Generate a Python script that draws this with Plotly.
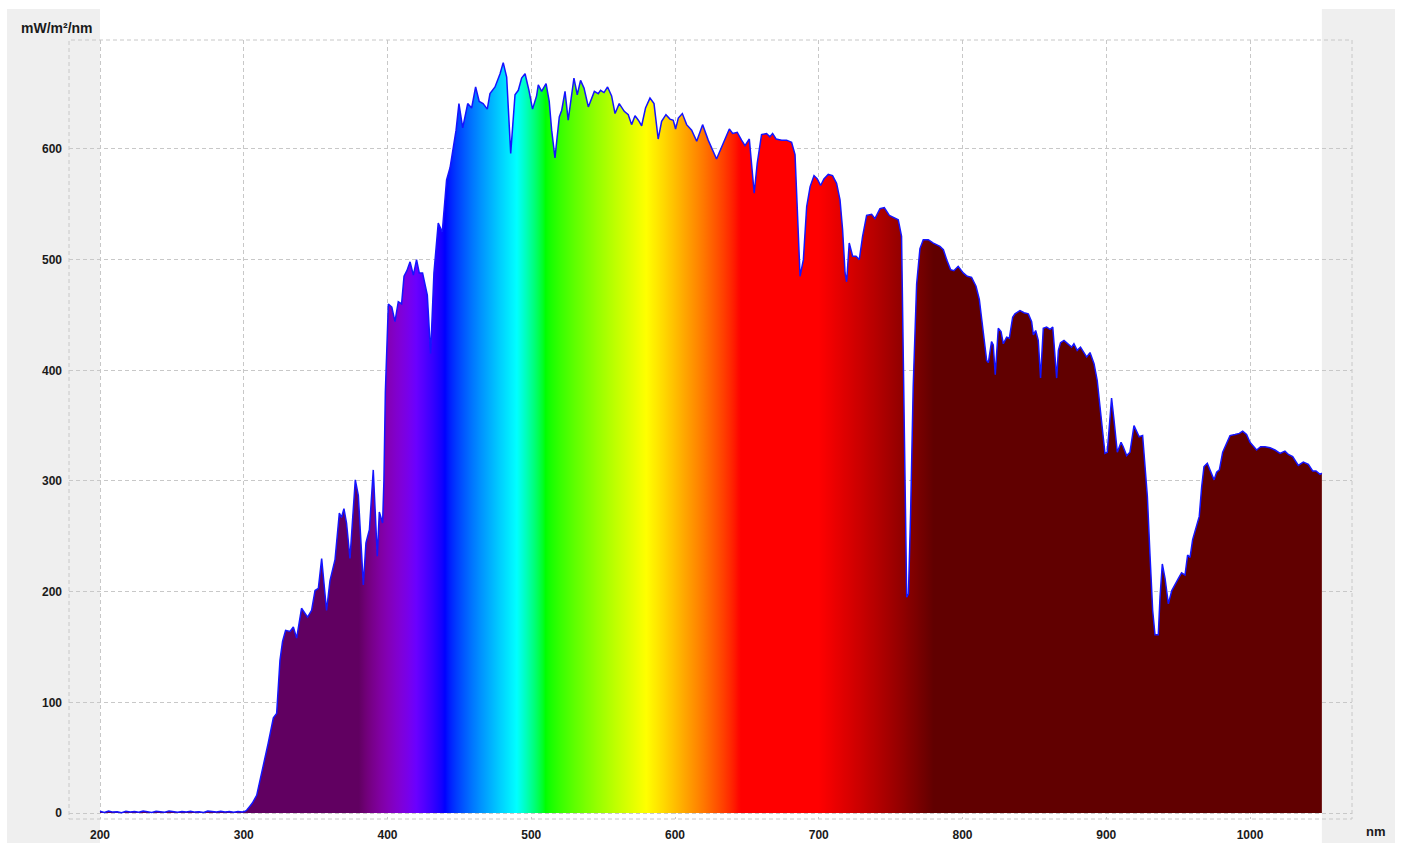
import plotly.graph_objects as go

# ---------------- data ----------------
wavelength_nm = [
    200, 203, 206, 209, 212, 215, 218, 221, 224, 227, 230, 233, 236, 239, 242, 245, 248, 251, 254, 257,
    260, 263, 266, 269, 272, 275, 278, 281, 284, 287, 290, 293, 296, 299, 301,
    302, 304, 306, 309, 311, 313.6, 317, 320.6, 322.9, 325.2, 327, 329.1, 332.2, 334.5, 336.8,
    340.2, 341.4, 344.4, 347.2, 349.6, 351.9, 354.2, 357.6, 360, 363.5, 366.5, 368, 369.7, 371.5,
    373.9, 375.7, 377.6, 379.7, 383.2, 385, 387.4, 390.1, 392.9, 394.3, 396.6, 397.5, 398.5,
    400.6, 403, 405.2, 407.5, 409.8, 411.5, 413.5, 415.7, 418, 420.2, 422.1, 424.4, 427.7, 430,
    432.3, 435.3, 438.1, 441.1, 443.5, 445.3, 447.7, 449.7, 452.3, 455.8, 458.5, 461.3, 463.8,
    466.5, 469.4, 471.3, 474.8, 478.3, 480.5, 482.9, 485.7, 488.7, 491, 493.3, 495.7, 498.4,
    500.9, 503.7, 504.9, 507.2, 510.3, 512.5, 514.2, 516.5, 519.5, 521.2, 523.5, 525.7, 527.7,
    529.7, 532, 534.3, 536.7, 539.7, 543.9, 546.6, 548.2, 550.6, 553.1, 555.9, 558.3, 561.2,
    564.7, 567.5, 569.8, 572.2, 574.5, 576.8, 579.5, 582.6, 585.4, 588.3, 590.7, 593.7, 596.5,
    598.8, 600.4, 602.3, 605.1, 608.1, 611.6, 615.1, 619.2, 623.1, 628.9, 633.6, 637.8, 640.1,
    643.3, 646.3, 648.7, 651.7, 653.3, 655.1, 657.2, 660.2, 663.7, 666, 667.9, 670.3, 674.2,
    677.6, 681.1, 683.5, 685, 687, 689.3, 691.6, 694, 696.7, 699, 701.3, 703.6, 706.6, 709.6,
    712.4, 714.8, 716.6, 718.3, 719.4, 721.2, 723.6, 725.9, 728.2, 730.5, 733.3, 736.8, 739.1,
    742.6, 745.6, 749.1, 751.8, 755.3, 757.6, 758.8, 760, 761.2, 762.4, 763.9, 765.7, 768.1,
    770.4, 772.7, 776.2, 779.7, 784.3, 786.7, 789, 791.7, 794, 797, 800.5, 803.3, 806.3, 809.4,
    811.7, 814, 816.8, 818, 820.2, 821.4, 822.8, 824.9, 826.8, 828.4, 830.7, 832.6, 834.9,
    836.5, 840, 842.8, 845.8, 848.1, 849.3, 850.9, 852.7, 854.3, 856.2, 858.5, 860.9, 862.8,
    864.3, 865.5, 866.7, 868.2, 870.6, 873.7, 875.9, 877.5, 879.8, 882.1, 884.5, 886.4, 888.7,
    891.5, 893.7, 896.8, 899.1, 900.7, 902.1, 903.7, 905.4, 907.7, 910.3, 911.8, 914.2, 916.5,
    919.3, 921.2, 922.9, 925.3, 926.9, 928.6, 930.4, 932.3, 933.9, 936.2, 937.4, 939, 940.9,
    943.2, 945.6, 947.8, 950.2, 952.4, 954.8, 956.6, 958.3, 960.1, 962.4, 964.7, 966.4, 968,
    970.3, 972.6, 975, 976.8, 978.7, 981, 983.8, 986.1, 989.6, 992.6, 994.9, 997.6, 1000,
    1002.3, 1004.6, 1007.4, 1010.4, 1013.9, 1017.4, 1020.9, 1024.3, 1026.7, 1029.7, 1033.6,
    1037.1, 1040.6, 1043.6, 1045.9, 1048.7, 1050,
]

irradiance = [
    1.5, 0.5, 1.8, 0.8, 1.2, 0.3, 1.6, 0.9, 1.4, 0.6, 1.7, 1.0, 0.4, 1.5, 1.1, 0.7, 1.9, 1.2, 0.6, 1.3,
    0.9, 1.6, 0.8, 1.2, 0.5, 1.7, 1.1, 0.8, 1.5, 0.9, 1.3, 0.6, 1.4, 1.0, 1.5,
    2.5, 5.7, 9, 16, 27, 42, 63, 86, 90, 138, 155, 165, 164, 168, 158,
    185, 183, 177, 183, 201, 203, 230, 183, 210, 229, 271, 267, 275, 262,
    230, 265, 301, 287, 206, 244, 256, 310, 232, 272, 262, 300, 380,
    460, 457, 444, 462, 460, 485, 490, 498, 486, 500, 488, 488, 468, 415,
    488, 533, 525, 572, 583, 599, 617, 641, 619, 641, 637, 656, 643,
    641, 636, 650, 656, 668, 678, 665, 596, 649, 653, 664, 668, 653,
    636, 648, 658, 652, 659, 643, 617, 592, 629, 635, 652, 626, 646,
    664, 649, 662, 655, 638, 652, 650, 653, 651, 656, 648, 632, 641,
    634, 631, 622, 630, 626, 621, 637, 646, 641, 609, 625, 631, 627,
    626, 618, 628, 632, 622, 617, 607, 622, 608, 591, 606, 618, 614,
    615, 608, 603, 609, 587, 560, 587, 613, 614, 611, 614, 609, 608,
    608, 606, 595, 548, 485, 500, 548, 566, 576, 573, 567, 573, 577, 576,
    569, 554, 527, 488, 480, 515, 503, 503, 500, 521, 540, 541, 537,
    546, 547, 540, 538, 536, 521, 397, 271, 195, 198, 271, 385, 478,
    510, 518, 518, 515, 512, 509, 500, 491, 490, 494, 488, 485, 484, 476,
    464, 439, 409, 407, 426, 423, 396, 438, 435, 424, 430, 429, 448,
    451, 454, 452, 451, 444, 432, 436, 427, 393, 438, 439, 437, 439,
    415, 393, 418, 425, 427, 423, 421, 424, 418, 421, 416, 412, 416,
    406, 391, 352, 325, 326, 352, 375, 355, 326, 335, 331, 323, 326,
    350, 344, 340, 341, 316, 286, 234, 183, 161, 161, 195, 225, 212,
    189, 201, 207, 212, 217, 215, 233, 231, 247, 257, 268, 295, 313,
    316, 309, 301, 308, 310, 326, 335, 341, 342, 343, 345, 342, 335,
    331, 328, 331, 331, 330, 328, 325, 327, 324, 322, 314,
    317, 315, 309, 309, 306, 307,
]

x_ticks = [200, 300, 400, 500, 600, 700, 800, 900, 1000]
y_ticks = [0, 100, 200, 300, 400, 500, 600]
y_unit_label = "mW/m²/nm"
x_unit_label = "nm"

# ---------------- style helpers ----------------
def wavelength_color(w):
    """Classic visible-spectrum colour (clamped at 380 / 780 nm)."""
    w = min(max(w, 380.0), 780.0)
    if w < 440:
        r, g, b = -(w - 440) / 60.0, 0.0, 1.0
    elif w < 490:
        r, g, b = 0.0, (w - 440) / 50.0, 1.0
    elif w < 510:
        r, g, b = 0.0, 1.0, -(w - 510) / 20.0
    elif w < 580:
        r, g, b = (w - 510) / 70.0, 1.0, 0.0
    elif w < 645:
        r, g, b = 1.0, -(w - 645) / 65.0, 0.0
    else:
        r, g, b = 1.0, 0.0, 0.0
    if w < 420:
        f = 0.3 + 0.7 * (w - 380) / 40.0
    elif w > 700:
        f = 0.3 + 0.7 * (780 - w) / 80.0
    else:
        f = 1.0
    conv = lambda c: int(round(255 * ((c * f) ** 0.8))) if c > 0 else 0
    return "rgb(%d,%d,%d)" % (conv(r), conv(g), conv(b))

g_start, g_stop = 200.0, 1050.0
stops = list(range(200, 1051, 2))
colorscale = [[(s - g_start) / (g_stop - g_start), wavelength_color(s)] for s in stops]

# pixel layout of the reference
W, H = 1404, 843
L, R, T, B = 69, 1352, 40, 819
pw, ph = R - L, B - T
px2x = lambda px: (px - L) / pw
py2y = lambda py: (B - py) / ph

grid_col = "#c8c8c8"
font_fam = "Liberation Sans, Arial, sans-serif"

fig = go.Figure()
fig.add_trace(go.Scatter(
    x=wavelength_nm, y=irradiance, mode="lines",
    line=dict(color="#1414ff", width=1.5),
    fill="tozeroy",
    fillgradient=dict(type="horizontal", colorscale=colorscale, start=g_start, stop=g_stop),
    hoverinfo="x+y", showlegend=False,
))

shapes = [
    # outer grey panel
    dict(type="rect", xref="paper", yref="paper", x0=px2x(7), x1=px2x(1395), y0=py2y(845), y1=py2y(9),
         fillcolor="#efefef", line=dict(width=0), layer="below"),
    # white data column
    dict(type="rect", xref="x", yref="paper", x0=200, x1=1050, y0=py2y(845), y1=py2y(9),
         fillcolor="#ffffff", line=dict(width=0), layer="below"),
    # dashed frame
    dict(type="rect", xref="paper", yref="paper", x0=0, x1=1, y0=0, y1=1,
         line=dict(color=grid_col, width=1, dash="4px,3px"), fillcolor="rgba(0,0,0,0)", layer="above"),
]

annotations = [
    dict(text="<b>%s</b>" % y_unit_label, xref="paper", yref="paper", x=px2x(57), y=py2y(28),
         xanchor="center", yanchor="middle", showarrow=False,
         font=dict(family=font_fam, size=14, color="#1a1a1a")),
    dict(text="<b>%s</b>" % x_unit_label, xref="paper", yref="paper", x=px2x(1376), y=py2y(831),
         xanchor="center", yanchor="middle", showarrow=False,
         font=dict(family=font_fam, size=13, color="#1a1a1a")),
]

x_lo = 200 + (L - 100) / 1.4375
x_hi = 200 + (R - 100) / 1.4375
y_lo = -(B - 813) / 1.1067
y_hi = (813 - T) / 1.1067

fig.update_layout(
    width=W, height=H,
    margin=dict(l=L, r=W - R, t=T, b=H - B, pad=0, autoexpand=False),
    paper_bgcolor="#ffffff", plot_bgcolor="rgba(0,0,0,0)",
    shapes=shapes, annotations=annotations,
    font=dict(family=font_fam, size=12, color="#1a1a1a"),
    xaxis=dict(range=[x_lo, x_hi], tickvals=x_ticks, ticktext=["<b>%d</b>" % v for v in x_ticks],
               showgrid=True, gridcolor=grid_col, griddash="4px,3px", gridwidth=1, automargin=False,
               zeroline=False, showline=False, ticks="", ticklabelstandoff=7,
               tickfont=dict(family=font_fam, size=12, color="#1a1a1a")),
    yaxis=dict(range=[y_lo, y_hi], tickvals=y_ticks, ticktext=["<b>%d</b>" % v for v in y_ticks],
               showgrid=True, gridcolor=grid_col, griddash="4px,3px", gridwidth=1, automargin=False,
               zeroline=False, showline=False, ticks="", ticklabelstandoff=6,
               tickfont=dict(family=font_fam, size=12, color="#1a1a1a")),
)

fig.write_html(
    "out.html",
    config={"displayModeBar": False},
    post_script="document.body.style.margin='0';document.body.style.overflow='hidden';",
)
